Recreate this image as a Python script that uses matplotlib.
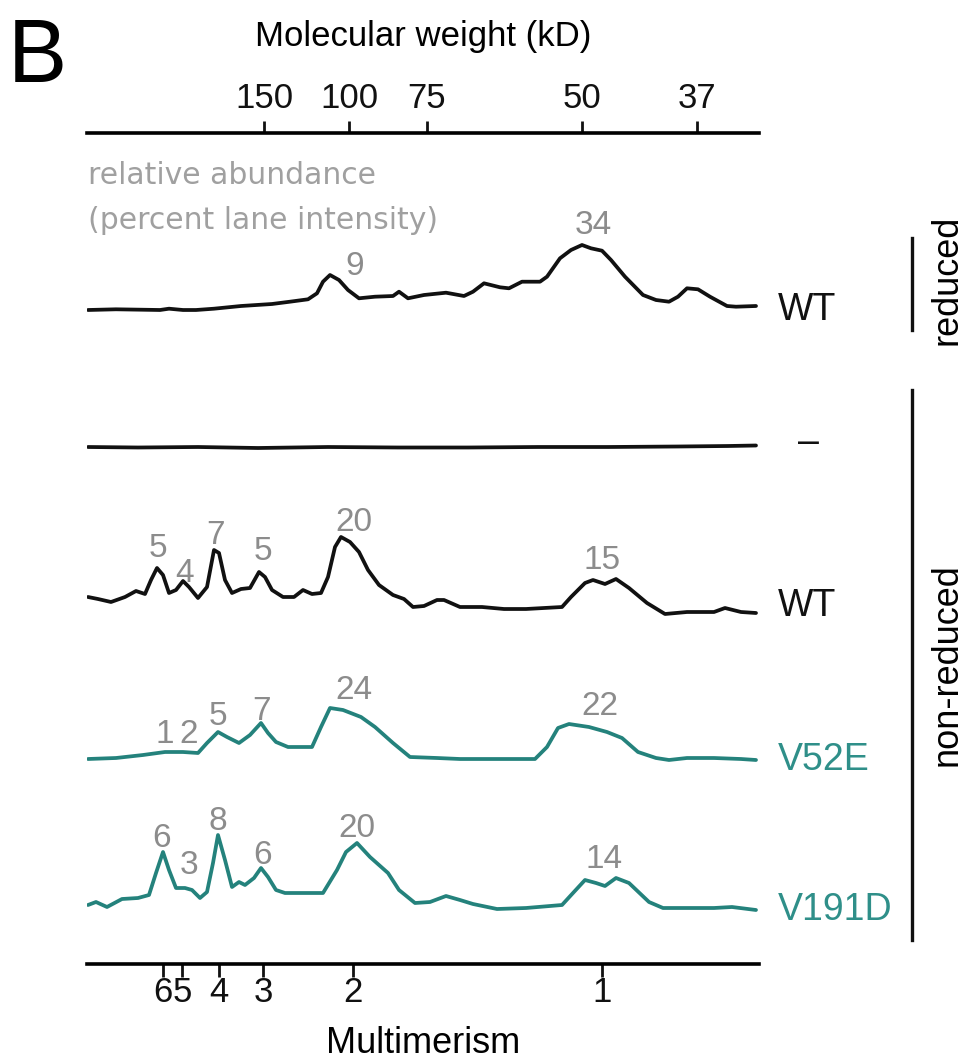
import matplotlib
matplotlib.use("Agg")
import matplotlib.pyplot as plt

# ---------------- data ----------------
mw_labels = ["150", "100", "75", "50", "37"]
mw_pos = [176, 261, 339, 494, 609]            # migration units
mult_labels = ["6", "5", "4", "3", "2", "1"]
mult_pos = [75, 94, 131, 175, 265, 514]

wt_red_x = [0, 28, 72, 81, 95, 108, 126, 153, 184, 202, 220, 229, 235, 242, 251, 260, 271, 287, 305, 311,
            320, 336, 358, 376, 385, 396, 412, 421, 434, 452, 459, 472, 483, 494, 503, 514, 523, 537, 555, 568,
            581, 590, 599, 610, 622, 639, 648, 668]
wt_red_y = [1, 1.7, 1, 2.3, 1, 1, 2.3, 5, 7, 9.3, 11.7, 17.7, 29.3, 36, 31, 21, 12.7, 14.3, 15, 19.3,
            12.7, 16, 18.3, 15, 19.3, 27.7, 23.7, 22.7, 29.3, 29.3, 34.3, 52.7, 61, 66, 62.7, 60.3, 51, 34.3, 16, 11,
            9.3, 14.3, 22.7, 21.7, 14.3, 5, 4.3, 5]

blank_x = [0, 50, 110, 170, 240, 310, 380, 450, 520, 590, 640, 668]
blank_y = [1, 0.5, 1, 0, 1, 0.5, 0.5, 1, 1, 1.5, 2, 2.5]

wt_nr_x = [0, 10, 23, 37, 48, 57, 63, 69, 75, 81, 88, 95, 101, 110, 119, 126, 131, 137, 144, 153,
           162, 171, 177, 184, 195, 206, 215, 224, 233, 240, 247, 253, 262, 271, 280, 291, 305, 316, 325, 336,
           349, 356, 372, 394, 416, 438, 474, 483, 497, 505, 517, 528, 541, 559, 577, 599, 626, 637, 653, 668]
wt_nr_y = [17, 15, 12, 17, 23, 20, 34, 46, 39, 21, 24, 33, 27, 16, 27, 64, 61, 34, 21, 25,
           26, 42, 37, 24, 17, 17, 24, 20, 21, 37, 67, 77, 72, 62, 44, 29, 19, 15, 7, 8,
           14, 14, 7, 7, 5, 5, 7, 17, 31, 34, 30, 35, 26, 11, 0, 2, 2, 6, 2, 1]

v52e_x = [0, 28, 55, 77, 95, 110, 119, 130, 139, 151, 162, 173, 180, 188, 200, 224, 233, 242, 255, 273,
          287, 305, 322, 349, 372, 447, 459, 470, 481, 501, 519, 534, 550, 568, 581, 599, 626, 653, 668]
v52e_y = [1, 2, 5, 8, 8, 7, 17, 28, 23, 17, 25, 37, 27, 18, 13, 13, 33, 52, 50, 43,
          33, 17, 3, 2, 1, 1, 13, 32, 36, 33, 28, 22, 8, 2, 0, 2, 2, 1, 0]

v191d_x = [0, 8, 19, 34, 50, 61, 68, 75, 81, 88, 97, 104, 112, 119, 125, 130, 137, 144, 151, 157,
           166, 173, 180, 188, 197, 235, 249, 258, 269, 282, 300, 311, 327, 342, 358, 372, 385, 409, 438, 474,
           485, 497, 508, 517, 528, 541, 561, 575, 599, 626, 644, 668]
v191d_y = [5, 8, 3, 11, 12, 15, 37, 58, 40, 22, 22, 20, 12, 18, 47, 75, 50, 23, 28, 25,
           32, 42, 33, 20, 17, 17, 40, 58, 67, 53, 37, 20, 7, 8, 14, 10, 6, 1, 2, 5,
           17, 30, 27, 24, 32, 27, 8, 2, 2, 2, 3, 0]

lane_names = ["WT", "\u2013", "WT", "V52E", "V191D"]

# peak annotations: (text, x migration, label centre in figure px)
wt_red_peaks = [("9", 267, 263), ("34", 505, 222)]
wt_nr_peaks = [("5", 70, 545), ("4", 97, 570), ("7", 128, 532), ("5", 175, 548), ("20", 266, 519), ("15", 514, 557)]
v52e_peaks = [("1", 77, 731), ("2", 101, 731), ("5", 130, 713), ("7", 173, 708), ("24", 266, 687), ("22", 512, 703)]
v191d_peaks = [("6", 74, 835), ("3", 101, 862), ("8", 130, 818), ("6", 175, 852), ("20", 269, 825), ("14", 516, 856)]

# ---------------- layout ----------------
W, H = 964, 1061
BLACK = "#111111"
TEAL = "#24827c"
TEAL_TXT = "#2f8f89"
GRAY = "#8c8c8c"
GRAY2 = "#a0a0a0"
SANS = ["Liberation Sans", "DejaVu Sans"]

plt.rcParams["font.family"] = SANS

fig = plt.figure(figsize=(W / 100, H / 100), dpi=100)
ax_left, ax_right, ax_top, ax_bot = 87, 759, 133, 964
ax = fig.add_axes([ax_left / W, 1 - ax_bot / H, (ax_right - ax_left) / W, (ax_bot - ax_top) / H])
ax.set_xlim(-1, 671)
ax.set_ylim(0, ax_bot - ax_top)


def base(px):
    return ax_bot - px


lanes = [
    (wt_red_x, wt_red_y, base(311), BLACK, wt_red_peaks),
    (blank_x, blank_y, base(448), BLACK, []),
    (wt_nr_x, wt_nr_y, base(614), BLACK, wt_nr_peaks),
    (v52e_x, v52e_y, base(760), TEAL, v52e_peaks),
    (v191d_x, v191d_y, base(910), TEAL, v191d_peaks),
]

for xs, ys, off, col, peaks in lanes:
    ax.plot(xs, [off + v for v in ys], color=col, lw=2.7, solid_joinstyle="round", solid_capstyle="round")
    for txt, px, cy in peaks:
        ax.text(px, base(cy + 12), txt, fontsize=24, color=GRAY, ha="center", va="baseline")

for s in ["left", "right", "top"]:
    ax.spines[s].set_visible(False)
ax.spines["bottom"].set_linewidth(2.6)
ax.set_yticks([])
ax.set_xticks(mult_pos, mult_labels)
ax.tick_params(axis="x", direction="out", length=9, width=2, pad=0, labelsize=25, colors=BLACK)

ax2 = ax.twiny()
ax2.set_xlim(ax.get_xlim())
for s in ["left", "right", "bottom"]:
    ax2.spines[s].set_visible(False)
ax2.spines["top"].set_linewidth(2.6)
ax2.set_xticks(mw_pos, mw_labels)
ax2.tick_params(axis="x", direction="out", length=9, width=2, pad=4, labelsize=25, colors=BLACK)


def ftext(x, y, s, **kw):
    fig.text(x / W, 1 - y / H, s, **kw)


ftext(8, 82, "B", fontsize=64, ha="left", va="baseline")
ftext(423, 46, "Molecular weight (kD)", fontsize=25, ha="center", va="baseline")
ftext(423, 1053, "Multimerism", fontsize=26, ha="center", va="baseline")
ftext(88, 184, "relative abundance", fontsize=21.5, color=GRAY2, ha="left", va="baseline",
      family=["DejaVu Sans"])
ftext(88, 229, "(percent lane intensity)", fontsize=21.5, color=GRAY2, ha="left", va="baseline",
      family=["DejaVu Sans"])

# lane labels
label_y = [306, 443, 603, 757, 907]
label_c = [BLACK, BLACK, BLACK, TEAL_TXT, TEAL_TXT]
for name, cy, c in zip(lane_names, label_y, label_c):
    if name == "\u2013":
        ftext(798, cy + 10, name, fontsize=27, color=c, ha="left", va="baseline")
    else:
        ftext(778, cy + 13.5, name, fontsize=27, color=c, ha="left", va="baseline")

# group brackets
fig.add_artist(plt.Line2D([912 / W, 912 / W], [1 - 238 / H, 1 - 330 / H], color=BLACK, lw=2.4))
fig.add_artist(plt.Line2D([912 / W, 912 / W], [1 - 390 / H, 1 - 940 / H], color=BLACK, lw=2.4))
ftext(947, 280, "reduced", fontsize=26, rotation=90, ha="center", va="center")
ftext(947, 665, "non-reduced", fontsize=26, rotation=90, ha="center", va="center")

fig.savefig("out.png", dpi=100)
